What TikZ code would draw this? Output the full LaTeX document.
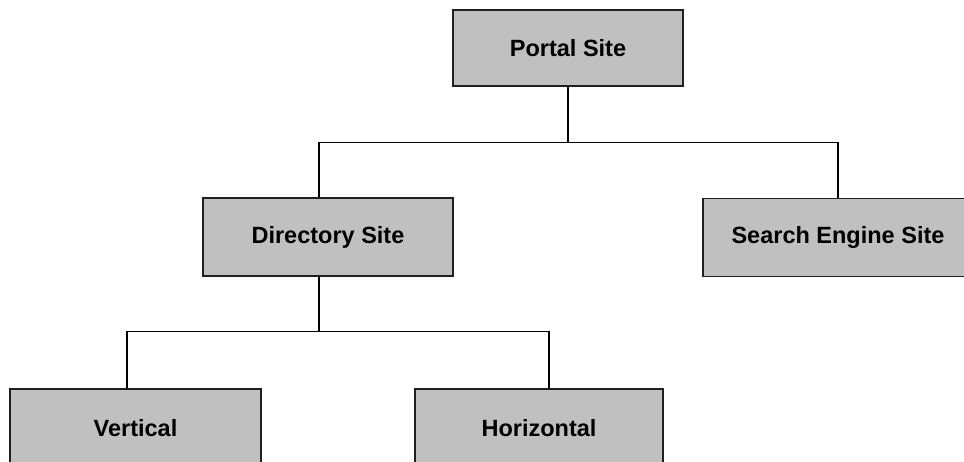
\documentclass[tikz,border=0pt]{standalone}
\usepackage{fontspec}
\setmainfont{Liberation Sans}
\usetikzlibrary{positioning}
\definecolor{boxgray}{RGB}{192,192,192}
\definecolor{edgegray}{RGB}{32,32,32}

\begin{document}
\begin{tikzpicture}[x=1pt, y=-1pt,
		sitebox/.style={draw=edgegray, line width=1.6pt, fill=boxgray, rectangle, inner sep=0pt,
			minimum height=78pt, font=\fontsize{23.5}{27}\selectfont\bfseries},
		link/.style={draw=black, line width=1.3pt}]
			% Canvas
			\clip (0,0) rectangle (964,462);
			\fill[white] (0,0) rectangle (964,462);

			% Sites
			\node[sitebox, minimum width=230pt, minimum height=76pt] (portal) at (568,48) {Portal Site};
			\node[sitebox, minimum width=250pt] (directory) at (328,237) {Directory Site};
			\node[sitebox, minimum width=270pt] (search) at (838,237.5) {Search Engine Site};
			\node[sitebox, minimum width=251pt] (vertical) at (135.5,428) {Vertical};
			\node[sitebox, minimum width=248pt] (horizontal) at (539,428) {Horizontal};

			% Tap points
			\coordinate (dirIn) at ([xshift=-9pt]directory.north);
			\coordinate (dirOut) at ([xshift=-9pt]directory.south);
			\coordinate (vertIn) at ([xshift=-8.5pt]vertical.north);
			\coordinate (horizIn) at ([xshift=10pt]horizontal.north);
			\coordinate (topBus) at ([yshift=-56pt]portal.south);
			\coordinate (lowBus) at ([yshift=-55pt]dirOut);

			% Connectors
			\draw[link] (portal.south) -- (topBus);
			\draw[link] (dirIn) |- (topBus) -| (search.north);
			\draw[link] (dirOut) -- (lowBus);
			\draw[link] (vertIn) |- (lowBus) -| (horizIn);
		\end{tikzpicture}
\end{document}
